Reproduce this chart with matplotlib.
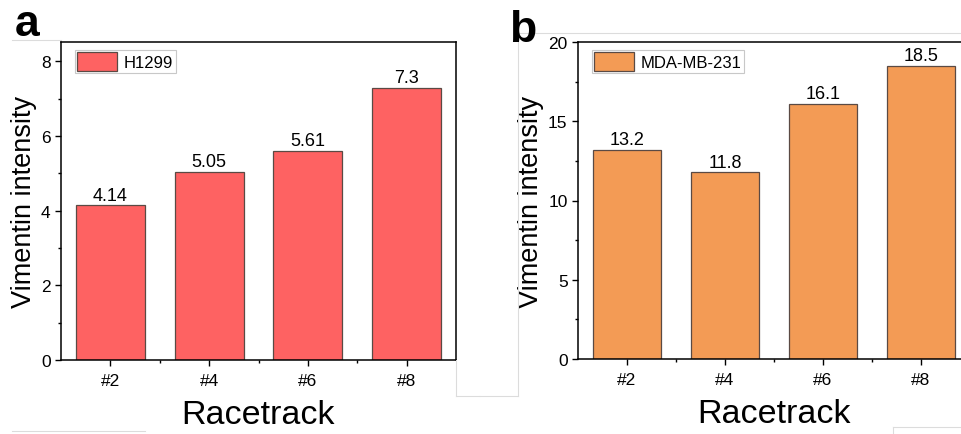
import matplotlib
matplotlib.use("Agg")
import matplotlib.pyplot as plt
from matplotlib.ticker import FixedLocator, MultipleLocator
from matplotlib.lines import Line2D

plt.rcParams['font.family'] = ['Liberation Sans', 'DejaVu Sans']

racetracks = ["#2", "#4", "#6", "#8"]
h1299 = [4.14, 5.05, 5.61, 7.3]
h1299_labels = ["4.14", "5.05", "5.61", "7.3"]
mda = [13.2, 11.8, 16.1, 18.5]
mda_labels = ["13.2", "11.8", "16.1", "18.5"]


def draw_panel(ax, values, labels, color, name, ymax, major, minor):
    x = range(len(racetracks))
    bars = ax.bar(x, values, width=0.7, color=color, edgecolor="#5a4a44",
                  linewidth=0.9, label=name, zorder=2)
    for b, lab in zip(bars, labels):
        ax.annotate(lab, (b.get_x() + b.get_width() / 2, b.get_height()),
                    xytext=(0, 1), textcoords="offset points",
                    ha="center", va="bottom", fontsize=13)
    ax.set_xlim(-0.5, 3.5)
    ax.set_ylim(0, ymax)
    ax.set_xticks(list(x))
    ax.set_xticklabels(racetracks)
    ax.xaxis.set_minor_locator(FixedLocator([0.5, 1.5, 2.5]))
    ax.yaxis.set_major_locator(MultipleLocator(major))
    ax.yaxis.set_minor_locator(MultipleLocator(minor))
    ax.tick_params(which="major", length=4.5, width=1, labelsize=12.5, direction="out", pad=3)
    ax.tick_params(axis="x", which="major", pad=5)
    ax.tick_params(which="minor", length=2.5, width=1, direction="out")
    ax.tick_params(top=False, right=False)
    for s in ax.spines.values():
        s.set_linewidth(1.1)
    ax.set_ylabel("Vimentin intensity", fontsize=19.5, labelpad=3)
    ax.set_xlabel("Racetrack", fontsize=24.5, labelpad=8)
    leg = ax.legend(loc="upper left", bbox_to_anchor=(0.035, 0.975), fontsize=12,
                    handlelength=2.4, handleheight=1.3, handletextpad=0.4,
                    borderpad=0.15, borderaxespad=0, fancybox=False, framealpha=1)
    leg.get_frame().set_edgecolor("#c8c8c8")
    leg.get_frame().set_linewidth(0.8)


fig = plt.figure(figsize=(9.61, 4.35), dpi=100)
ax1 = fig.add_axes([61 / 961, 74 / 435, 395 / 961, 318 / 435])
ax2 = fig.add_axes([578 / 961, 75 / 435, 392 / 961, 317 / 435])

draw_panel(ax1, h1299, h1299_labels, "#fe6262", "H1299", 8.52, 2, 1)
draw_panel(ax2, mda, mda_labels, "#f39b55", "MDA-MB-231", 20, 5, 2.5)

fig.text(15 / 961, 1 - 36 / 435, "a", fontsize=32, fontweight="bold", ha="left", va="baseline")
fig.text(509 / 961, 1 - 42 / 435, "b", fontsize=32, fontweight="bold", ha="left", va="baseline")

# faint frame lines left over from the original figure crop
grey = "#dcdcdc"
for xs, ys in [((12, 61), (41, 41)), ((456, 456), (361, 397)), ((456, 479), (397, 397)),
               ((12, 145), (432, 432)), ((518, 961), (34, 34)), ((518, 518), (34, 397)),
               ((480, 518), (397, 397)), ((893, 961), (428, 428)), ((893, 893), (428, 435))]:
    fig.add_artist(Line2D([x / 961 for x in xs], [1 - y / 435 for y in ys],
                          color=grey, linewidth=0.8, transform=fig.transFigure))

fig.savefig("out.png", dpi=100)
